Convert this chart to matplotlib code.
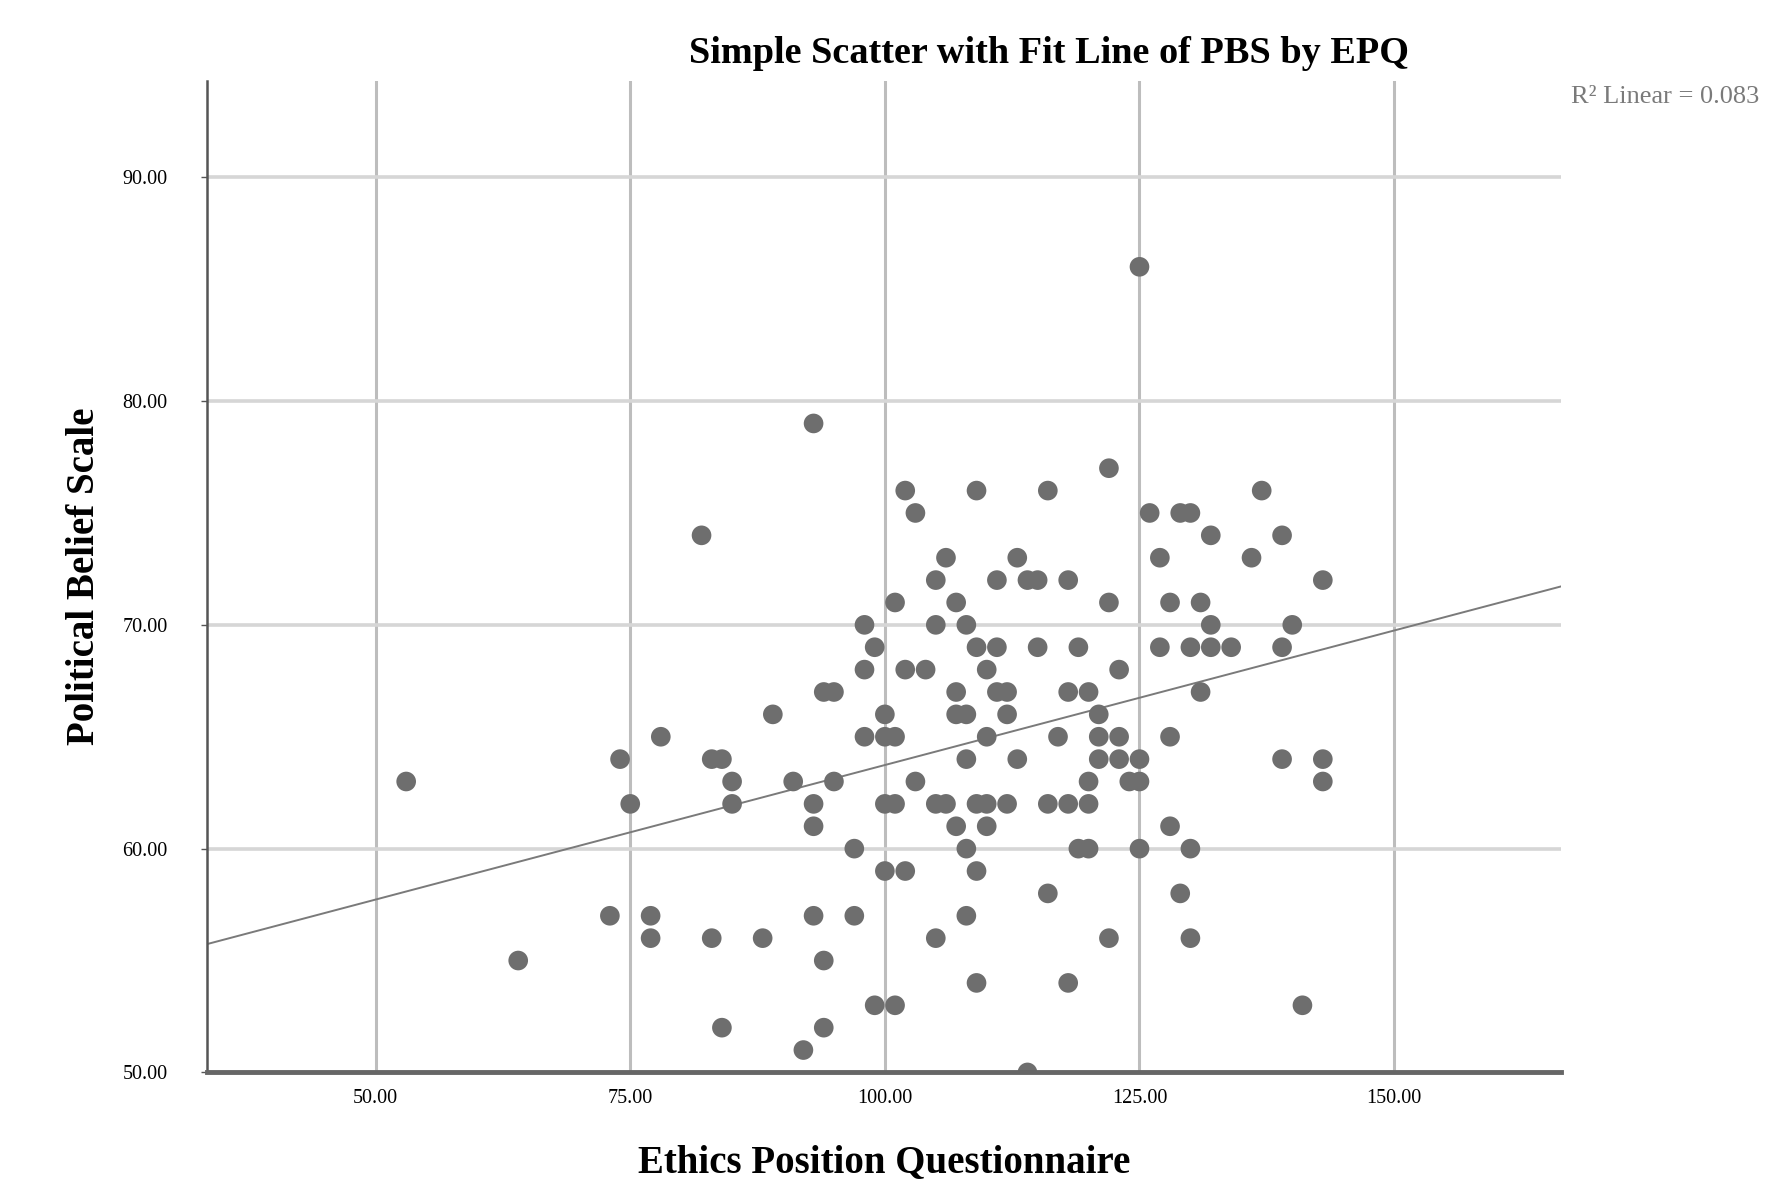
import matplotlib.pyplot as plt
import numpy as np

plt.rcParams['font.family'] = ['Liberation Serif', 'DejaVu Serif']

# EPQ (x) and PBS (y) scores
epq = [53, 64, 73, 74, 75, 77, 77, 78, 82, 83, 83, 84, 84, 85, 85, 88, 89, 91, 92,
       93, 93, 93, 93, 94, 95, 94, 94, 95, 97, 97, 98, 98, 98, 99, 99, 100, 100, 101,
       100, 101, 100, 101, 101, 102, 102, 102, 103, 103, 104, 105, 105, 105, 106, 105,
       106, 107, 107, 107, 108, 107, 108, 108, 108, 108, 109, 109, 109, 109, 109, 110,
       110, 110, 110, 111, 111, 111, 112, 112, 112, 113, 113, 114, 115, 114, 115, 116,
       116, 116, 117, 118, 118, 118, 118, 119, 119, 120, 120, 120, 120, 121, 121, 121,
       122, 122, 122, 123, 123, 123, 124, 125, 125, 125, 125, 126, 127, 127, 128, 128,
       128, 129, 130, 129, 130, 130, 130, 131, 131, 132, 132, 132, 134, 136, 137, 139,
       139, 139, 140, 141, 143, 143, 143]
pbs = [63, 55, 57, 64, 62, 57, 56, 65, 74, 56, 64, 64, 52, 63, 62, 56, 66, 63, 51,
       79, 62, 61, 57, 67, 67, 55, 52, 63, 60, 57, 70, 68, 65, 69, 53, 66, 65, 65,
       62, 62, 59, 71, 53, 76, 68, 59, 75, 63, 68, 72, 70, 62, 62, 56,
       73, 71, 67, 66, 66, 61, 70, 64, 60, 57, 76, 69, 62, 59, 54, 68,
       65, 62, 61, 72, 69, 67, 67, 66, 62, 73, 64, 72, 72, 50, 69, 76,
       62, 58, 65, 72, 67, 62, 54, 69, 60, 60, 67, 63, 62, 66, 65, 64,
       77, 71, 56, 68, 65, 64, 63, 86, 64, 63, 60, 75, 73, 69, 71, 65,
       61, 75, 75, 58, 69, 60, 56, 71, 67, 74, 70, 69, 69, 73, 76, 74,
       69, 64, 70, 53, 72, 64, 63]

x_ticks = [50, 75, 100, 125, 150]
y_ticks = [50, 60, 70, 80, 90]
r2_text = 'R\u00b2 Linear = 0.083'

fig = plt.figure(figsize=(17.7, 11.85), dpi=100)
ax = fig.add_axes([0.1167, 0.095, 0.882 - 0.1167, 0.9316 - 0.095])

ax.set_xlim(33.4, 166.4)
ax.set_ylim(50, 94.3)

# grid
for xv in x_ticks:
    ax.axvline(xv, color='#bdbdbd', lw=2.2, zorder=1)
for yv in y_ticks[1:]:
    ax.axhline(yv, color='#d6d6d6', lw=2.6, zorder=1)

ax.scatter(epq, pbs, s=200, color='#6e6e6e', edgecolors='none', zorder=3)

# linear fit
slope, icept = np.polyfit(epq, pbs, 1)
xs = np.array(ax.get_xlim())
ax.plot(xs, icept + slope * xs, color='#7a7a7a', lw=1.4, zorder=2)

for s in ['top', 'right']:
    ax.spines[s].set_visible(False)
ax.spines['left'].set_color('#555555')
ax.spines['left'].set_linewidth(1.8)
ax.spines['bottom'].set_color('#666666')
ax.spines['bottom'].set_linewidth(3.5)
ax.spines['bottom'].set_zorder(4)

ax.set_xticks(x_ticks)
ax.set_xticklabels([f'{v:.2f}' for v in x_ticks])
ax.set_yticks(y_ticks)
ax.set_yticklabels([f'{v:.2f}' for v in y_ticks])
ax.tick_params(axis='x', length=0, pad=12, labelsize=14.5)
ax.tick_params(axis='y', length=4, width=1, color='#555555', pad=24, labelsize=14.5)

ax.set_xlabel('Ethics Position Questionnaire', fontsize=28, fontweight='bold', labelpad=26)
ax.set_ylabel('Political Belief Scale', fontsize=28, fontweight='bold', labelpad=14)

fig.text(0.5925, 0.947, 'Simple Scatter with Fit Line of PBS by EPQ',
         ha='center', va='baseline', fontsize=27.5, fontweight='bold')
fig.text(0.9937, 0.918, r2_text, ha='right', va='center', fontsize=19, color='#7a7a7a')

fig.savefig('out.png', dpi=100)
